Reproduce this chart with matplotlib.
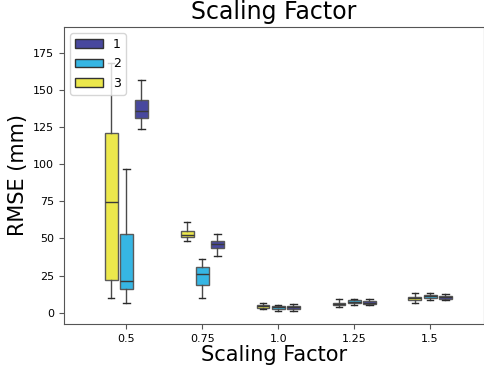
import numpy as np
import matplotlib.pyplot as plt
from matplotlib.patches import Patch

factors = ['0.5', '0.75', '1.0', '1.25', '1.5']
groups = ['1', '2', '3']
colors = {'1': '#48489e', '2': '#36b6e4', '3': '#ece84c'}

# (whislo, q1, med, q3, whishi) per factor
stats_1 = [(123.6, 131.4, 135.9, 143.5, 156.6),
           (38.2, 43.5, 46.0, 48.5, 53.2),
           (1.3, 2.7, 3.6, 4.2, 5.6),
           (5.2, 5.9, 6.7, 7.6, 9.4),
           (8.5, 9.2, 10.6, 11.4, 12.6)]
stats_2 = [(6.3, 15.9, 21.3, 53.0, 96.5),
           (9.9, 18.4, 26.0, 30.5, 36.1),
           (1.1, 2.5, 3.6, 4.5, 5.2),
           (5.4, 6.3, 7.4, 8.3, 9.4),
           (8.7, 10.1, 11.2, 12.1, 13.2)]
stats_3 = [(9.9, 22.2, 74.5, 120.9, 168.0),
           (48.5, 50.7, 52.5, 55.2, 61.0),
           (2.5, 3.2, 4.2, 4.9, 6.5),
           (3.8, 4.9, 5.9, 6.7, 9.0),
           (6.5, 8.3, 9.9, 10.6, 13.0)]
all_stats = {'1': stats_1, '2': stats_2, '3': stats_3}
# left-to-right order inside each factor
draw_order = ['3', '2', '1']
offsets = [-0.2, 0.0, 0.2]
w = 0.17

fig = plt.figure(figsize=(4.85, 3.68), dpi=100)
ax = fig.add_axes([0.132, 0.12, 0.866, 0.807])

for g, off in zip(draw_order, offsets):
    bstats = []
    for s in all_stats[g]:
        lo, q1, med, q3, hi = s
        bstats.append(dict(whislo=lo, q1=q1, med=med, q3=q3, whishi=hi, fliers=[]))
    pos = np.arange(len(factors)) + off
    ax.bxp(bstats, positions=pos, widths=w, patch_artist=True, showfliers=False,
           manage_ticks=False, capwidths=w / 2,
           boxprops=dict(facecolor=colors[g], edgecolor='#5a5a5a', linewidth=1.0),
           medianprops=dict(color='#3a3a3a', linewidth=1.0),
           whiskerprops=dict(color='#4a4a4a', linewidth=1.0),
           capprops=dict(color='#2a2a2a', linewidth=1.0))

ax.set_xticks(np.arange(len(factors)))
ax.set_xticklabels(factors)
ax.set_xlim(-0.82, 4.71)
ax.set_ylim(-7.5, 192.5)
ax.set_yticks(np.arange(0, 176, 25))
ax.tick_params(labelsize=8, color='#555555')
for sp in ax.spines.values():
    sp.set_color('#555555')

ax.set_title('Scaling Factor', fontsize=17)
ax.set_xlabel('Scaling Factor', fontsize=15, labelpad=1)
ax.set_ylabel('RMSE (mm)', fontsize=15)

handles = [Patch(facecolor=colors[g], edgecolor='#333333', label=g) for g in groups]
ax.legend(handles=handles, loc='upper left', fontsize=9, handlelength=2.2)

fig.savefig('out.png', dpi=100)
